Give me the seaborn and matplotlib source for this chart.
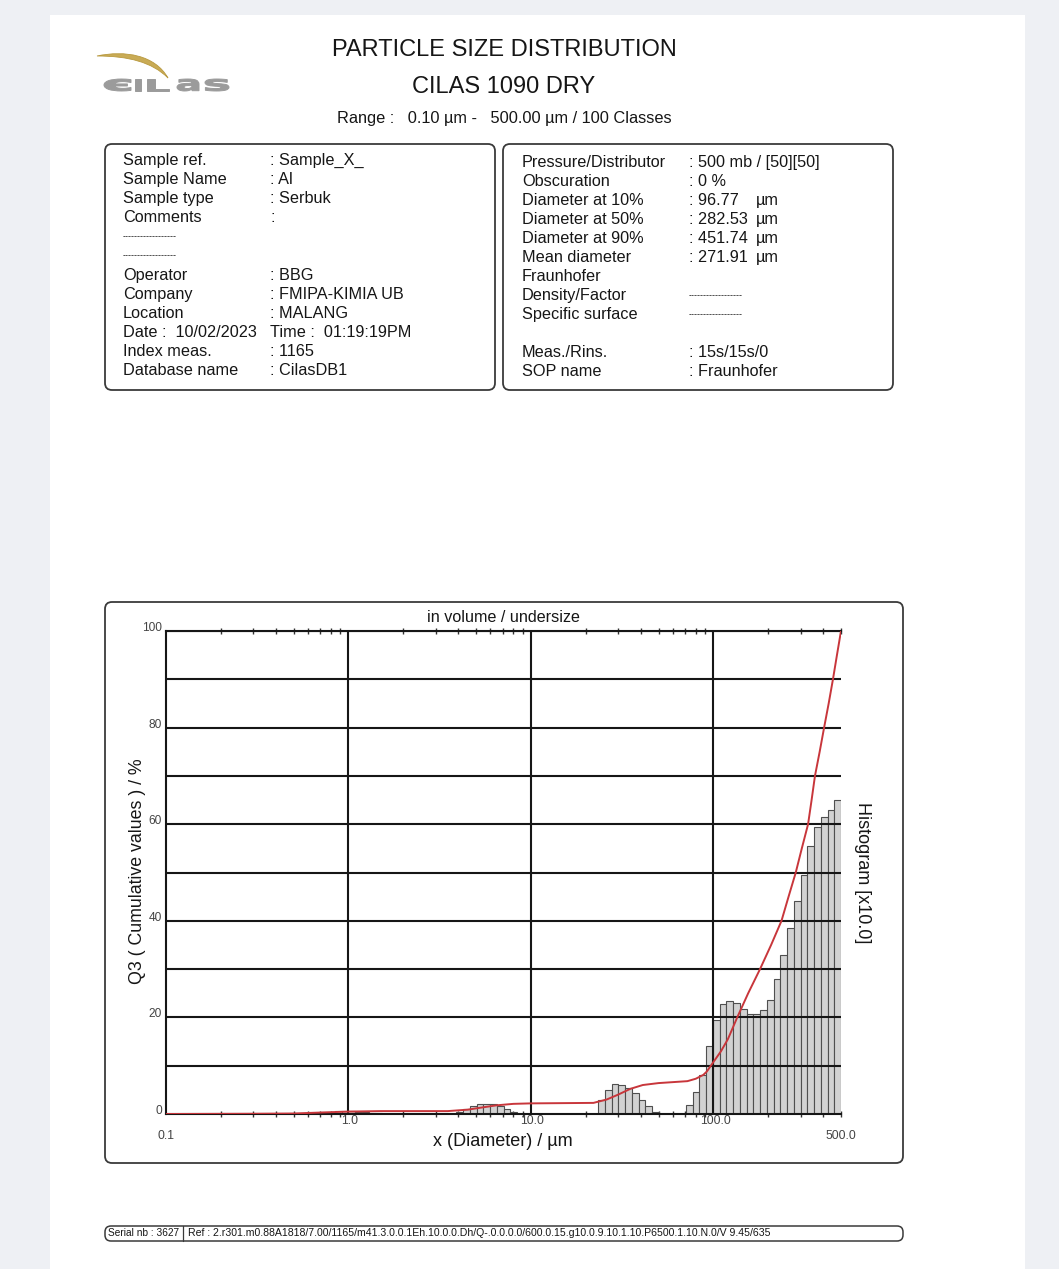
import numpy as np
import matplotlib
matplotlib.use("Agg")
import matplotlib.pyplot as plt
from matplotlib.patches import FancyBboxPatch, PathPatch, Rectangle
from matplotlib.path import Path
from matplotlib.textpath import TextPath
from matplotlib.font_manager import FontProperties
from matplotlib.ticker import LogLocator, NullFormatter, NullLocator
import matplotlib.transforms as mtransforms
import seaborn as sns

# ---------------- measurement data ----------------
# 100 size classes between 0.10 and 500 µm (log spaced)
class_edges_um = np.logspace(-1.0, np.log10(500.0), 101)

# histogram per class, plotted x10
hist_x10 = [
    0, 0, 0, 0, 0, 0, 0, 0, 0, 0,
    0, 0, 0, 0, 0, 0, 0, 0, 0, 0,
    0, 0, 0.2, 0.4, 0.5, 0.6, 0.6, 0.6, 0.5, 0.4,
    0.3, 0.2, 0, 0, 0, 0, 0, 0, 0, 0,
    0, 0, 0, 0.5, 1.0, 1.6, 2.0, 2.1, 2.0, 1.6,
    1.0, 0.4, 0, 0, 0, 0, 0, 0, 0, 0,
    0, 0, 0, 0, 2.8, 5.0, 6.2, 6.0, 5.4, 4.3,
    3.0, 1.6, 0.5, 0, 0, 0, 0, 1.8, 4.5, 8.0,
    14.0, 19.5, 22.8, 23.4, 23.0, 21.8, 20.8, 20.7, 21.5, 23.5,
    28.0, 33.0, 38.5, 44.0, 49.5, 55.5, 59.5, 61.4, 63.0, 65.0,
]

# cumulative undersize curve Q3
cum_diam_um = [0.10, 0.30, 0.50, 0.70, 1.00, 1.50, 3.50, 4.50, 5.50, 6.50,
               8.00, 10.0, 22.0, 26.0, 30.0, 35.0, 41.0, 50.0, 60.0, 72.0,
               80.0, 88.0, 92.0, 96.77, 110.0, 120.0, 135.0, 155.0, 180.0, 207.0,
               236.0, 258.0, 282.53, 305.0, 330.0, 345.0, 360.0, 382.0, 404.0, 428.0,
               451.74, 475.0, 500.0]
cum_q3 = [0.0, 0.05, 0.1, 0.3, 0.5, 0.6, 0.6, 0.9, 1.4, 1.8,
          2.1, 2.2, 2.3, 3.0, 4.0, 5.2, 6.0, 6.4, 6.6, 6.8,
          7.3, 8.1, 8.8, 10.0, 13.0, 15.5, 20.0, 25.0, 30.0, 35.0,
          40.0, 45.0, 50.0, 55.0, 60.0, 65.0, 70.0, 75.0, 80.0, 85.0,
          90.0, 95.0, 100.0]

y_label_values = [0, 20, 40, 60, 80, 100]
y_grid_values = [10, 20, 30, 40, 50, 60, 70, 80, 90, 100]
x_grid_values = [1.0, 10.0, 100.0]
x_inner_labels = [(1.0, "1.0"), (10.0, "10.0"), (100.0, "100.0")]
x_end_labels = [(0.1, "0.1"), (500.0, "500.0")]

DASHES = "-" * 18

# report header fields
left_rows = [
    ("Sample ref.", ": Sample_X_"),
    ("Sample Name", ": Al"),
    ("Sample type", ": Serbuk"),
    ("Comments", ":"),
    (DASHES, ""),
    (DASHES, ""),
    ("Operator", ": BBG"),
    ("Company", ": FMIPA-KIMIA UB"),
    ("Location", ": MALANG"),
    ("Date :  10/02/2023", "Time :  01:19:19PM"),
    ("Index meas.", ": 1165"),
    ("Database name", ": CilasDB1"),
]
right_rows = [
    ("Pressure/Distributor", ": 500 mb / [50][50]", ""),
    ("Obscuration", ": 0 %", ""),
    ("Diameter at 10%", ": 96.77", "µm"),
    ("Diameter at 50%", ": 282.53", "µm"),
    ("Diameter at 90%", ": 451.74", "µm"),
    ("Mean diameter", ": 271.91", "µm"),
    ("Fraunhofer", "", ""),
    ("Density/Factor", DASHES, ""),
    ("Specific surface", DASHES, ""),
    ("", "", ""),
    ("Meas./Rins.", ": 15s/15s/0", ""),
    ("SOP name", ": Fraunhofer", ""),
]
serial_text = "Serial nb : 3627"
ref_text = ("Ref : 2.r301.m0.88A1818/7.00/1165/m41.3.0.0.1Eh.10.0.0.Dh/Q-.0.0.0.0/"
            "600.0.15.g10.0.9.10.1.10.P6500.1.10.N.0/V 9.45/635")

# ---------------- styling ----------------
sns.set_theme(style="white")
plt.rcParams["font.family"] = ["Liberation Sans", "DejaVu Sans"]

W, H = 1059, 1269
fig = plt.figure(figsize=(W / 100, H / 100), dpi=100)
fig.patch.set_facecolor("#eef0f4")

# page layer in pixel coordinates (y downwards)
pg = fig.add_axes([0, 0, 1, 1], zorder=0)
pg.set_xlim(0, W)
pg.set_ylim(H, 0)
pg.axis("off")
pg.add_patch(Rectangle((50, 15), 975, 1262, facecolor="white", edgecolor="none"))

TXT = "#161616"
FS = 11.7

# logo: gold swoosh + grey lettering
swoosh = Path(
    [(97, 56), (125, 50), (155, 55), (168, 78), (152, 62), (128, 56), (97, 56), (97, 56)],
    [Path.MOVETO, Path.CURVE4, Path.CURVE4, Path.CURVE4,
     Path.CURVE4, Path.CURVE4, Path.CURVE4, Path.CLOSEPOLY],
)
pg.add_patch(PathPatch(swoosh, facecolor="#c9ab55", edgecolor="#b8993f", lw=0.6))


def fitted_text(s, x0, x1, y0, y1, color):
    tp = TextPath((0, 0), s, size=20,
                  prop=FontProperties(family="DejaVu Sans", weight="bold"))
    ext = tp.get_extents()
    tr = (mtransforms.Affine2D()
          .translate(-ext.x0, -ext.y0)
          .scale((x1 - x0) / ext.width, -(y1 - y0) / ext.height)
          .translate(x0, y1))
    pg.add_patch(PathPatch(tr.transform_path(tp), facecolor=color, edgecolor=color,
                           lw=0.7))


LOGO_GREY = "#9b9b9b"
fitted_text("є", 104, 131, 79, 91, LOGO_GREY)
fitted_text("ı", 135, 141, 79, 91, LOGO_GREY)
fitted_text("L", 147, 169, 79, 91, LOGO_GREY)
fitted_text("a", 177, 199, 79, 91, LOGO_GREY)
fitted_text("s", 205, 229, 79, 91, LOGO_GREY)

# titles
pg.text(504, 50, "PARTICLE SIZE DISTRIBUTION", ha="center", va="center", fontsize=17, color=TXT)
pg.text(504, 87, "CILAS 1090 DRY", ha="center", va="center", fontsize=17, color=TXT)
pg.text(504, 118, "Range :   0.10 µm -   500.00 µm / 100 Classes", ha="center", va="center",
        fontsize=11.8, color=TXT)


def rounded_box(x, y, w, h, r=7, lw=1.3):
    pg.add_patch(FancyBboxPatch((x, y), w, h, boxstyle=f"round,pad=0,rounding_size={r}",
                                facecolor="none", edgecolor="#3a3a3a", lw=lw))


def row_text(x, y, s):
    if s.startswith("---"):
        pg.text(x, y + 3, s, ha="left", va="baseline", fontsize=6.5, color=TXT)
    else:
        pg.text(x, y + 5, s, ha="left", va="baseline", fontsize=FS, color=TXT)


rounded_box(105, 144, 390, 246)
rounded_box(503, 144, 390, 246)

for i, (lab, val) in enumerate(left_rows):
    y = 160 + i * 19.1
    row_text(123, y, lab)
    row_text(270, y, val)

for i, (lab, val, unit) in enumerate(right_rows):
    y = 162 + i * 19.0
    row_text(522, y, lab)
    row_text(689, y, val)
    row_text(756, y, unit)

# chart frame and captions
rounded_box(105, 602, 798, 561)
pg.text(503, 617, "in volume / undersize", ha="center", va="center", fontsize=11.6, color=TXT)
pg.text(138, 871, "Q3 ( Cumulative values ) / %", ha="center", va="center", rotation=90,
        fontsize=12.8, color=TXT)
pg.text(862, 873, "Histogram [x10.0]", ha="center", va="center", rotation=-90,
        fontsize=13, color=TXT)
pg.text(503, 1141, "x (Diameter) / µm", ha="center", va="center", fontsize=13, color=TXT)

# footer strip
rounded_box(105, 1226, 798, 15, r=6, lw=1.1)
pg.plot([183, 183], [1226, 1241], color="#3a3a3a", lw=0.9)
pg.text(108, 1233.5, serial_text, ha="left", va="center", fontsize=7.3, color=TXT)
pg.text(188, 1233.5, ref_text, ha="left", va="center", fontsize=7.6, color=TXT)

# ---------------- distribution chart ----------------
ax = fig.add_axes([166 / W, 1 - 1114 / H, 675 / W, 483 / H], zorder=2)
ax.set_facecolor("none")

edges = np.asarray(class_edges_um)
centers = np.sqrt(edges[:-1] * edges[1:])
sns.histplot(x=list(centers), weights=list(hist_x10), bins=list(np.log10(edges)),
             log_scale=True, stat="count", color="#d2d2d2", edgecolor="#4f4f4f",
             linewidth=0.8, alpha=1.0, ax=ax, zorder=1)

for v in y_grid_values:
    ax.axhline(v, color="#161616", lw=1.5, zorder=2)
for v in x_grid_values:
    ax.axvline(v, color="#161616", lw=1.5, zorder=2)

sns.lineplot(x=cum_diam_um, y=cum_q3, color="#c8363b", linewidth=1.4,
             estimator=None, sort=False, ax=ax, zorder=4)

ax.set_xscale("log")
ax.set_xlim(0.1, 500)
ax.set_ylim(0, 100)
ax.set_xlabel("")
ax.set_ylabel("")

for side in ("left", "top", "bottom"):
    ax.spines[side].set_visible(True)
    ax.spines[side].set_color("#161616")
    ax.spines[side].set_linewidth(1.5)
ax.spines["right"].set_visible(False)

ax.xaxis.set_major_locator(NullLocator())
ax.xaxis.set_minor_locator(LogLocator(base=10, subs=np.arange(2, 10), numticks=30))
ax.xaxis.set_minor_formatter(NullFormatter())
ax.tick_params(axis="x", which="minor", top=True, bottom=True, direction="inout",
               length=5, width=1.0, color="#333333")
ax.set_yticks([])

ybl = mtransforms.blended_transform_factory(ax.transAxes, ax.transData)
for v in y_label_values:
    ax.text(-0.006, v, str(v), transform=ybl, ha="right", va="baseline",
            fontsize=8.6, color="#444444")

xbl = mtransforms.blended_transform_factory(ax.transData, ax.transAxes)
for v, s in x_inner_labels:
    ax.text(v * 1.02, -0.015, s, transform=xbl, ha="center", va="center",
            fontsize=8.8, color="#444444")
for v, s in x_end_labels:
    ax.text(v, -0.045, s, transform=xbl, ha="center", va="center",
            fontsize=8.8, color="#444444", clip_on=False)

fig.savefig("out.png", dpi=100, facecolor=fig.get_facecolor())
